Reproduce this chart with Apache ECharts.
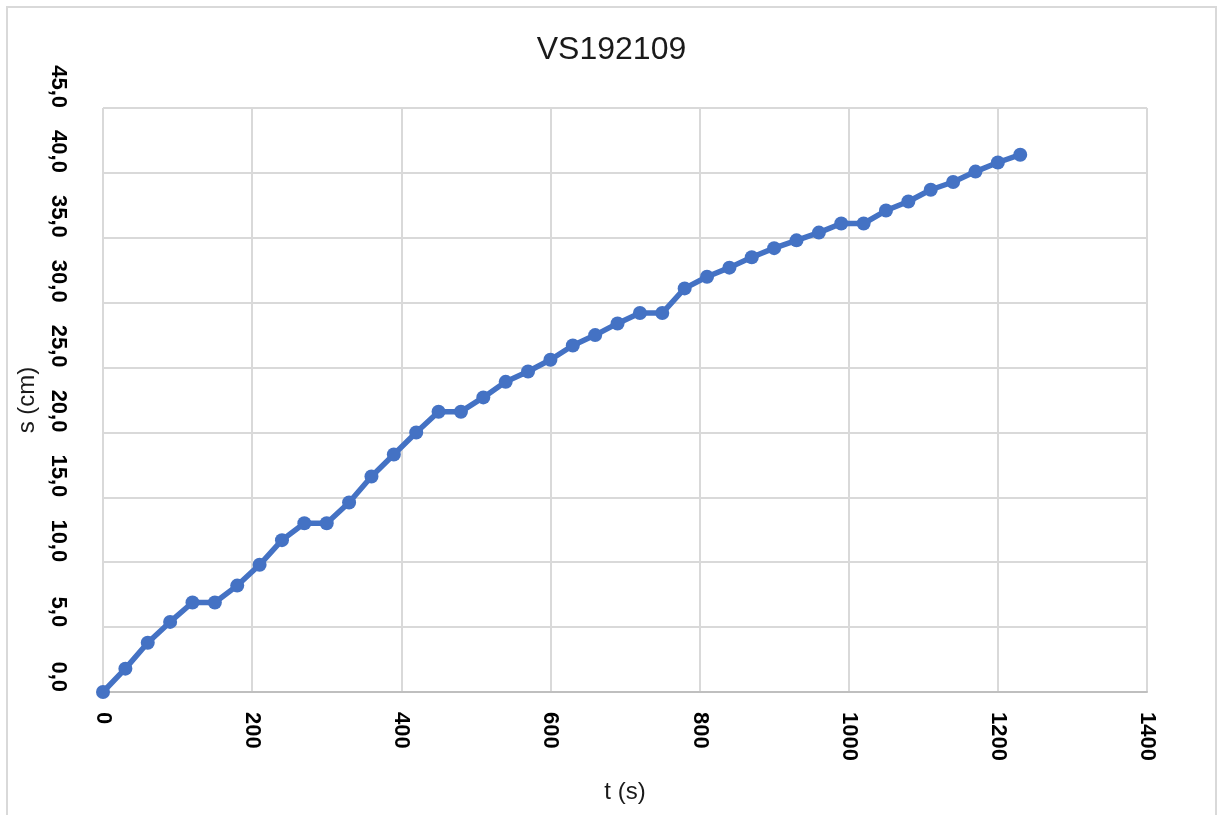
<!DOCTYPE html>
<html>
<head>
<meta charset="utf-8">
<title>VS192109</title>
<script src="https://cdn.jsdelivr.net/npm/echarts@6/dist/echarts.min.js"></script>
<style>
  html, body { margin: 0; padding: 0; background: #fff; }
  #chart { width: 1223px; height: 815px; }
</style>
</head>
<body>
<div id="chart"></div>
<script>
// t (s)
var times = [0, 30, 60, 90, 120, 150, 180, 210, 240, 270, 300, 330, 360, 390,
  420, 450, 480, 510, 540, 570, 600, 630, 660, 690, 720, 750, 780, 810, 840,
  870, 900, 930, 960, 990, 1020, 1050, 1080, 1110, 1140, 1170, 1200, 1230];
// s (cm)
var dist = [0, 1.8, 3.8, 5.4, 6.9, 6.9, 8.2, 9.8, 11.7, 13.0, 13.0, 14.6, 16.6, 18.3,
  20.0, 21.6, 21.6, 22.7, 23.9, 24.7, 25.6, 26.7, 27.5, 28.4, 29.2, 29.2, 31.1, 32.0, 32.7,
  33.5, 34.2, 34.8, 35.4, 36.1, 36.1, 37.1, 37.8, 38.7, 39.3, 40.1, 40.8, 41.4];

var chartTitle = 'VS192109';
var xName = 't (s)';
var yName = 's (cm)';

var font = '"Liberation Sans", Arial, sans-serif';

var points = [];
for (var i = 0; i < times.length; i++) {
  points.push([times[i], dist[i]]);
}

var myChart = echarts.init(document.getElementById('chart'));

myChart.setOption({
  animation: false,
  backgroundColor: '#ffffff',
  textStyle: { fontFamily: font },
  title: {
    text: chartTitle,
    left: 'center',
    top: 29,
    textStyle: {
      fontFamily: font,
      fontSize: 32,
      fontWeight: 'normal',
      color: '#1a1a1a'
    }
  },
  // outer frame of the chart area
  graphic: [
    {
      type: 'rect',
      shape: { x: 7, y: 7, width: 1209, height: 830 },
      style: { fill: 'none', stroke: '#d9d9d9', lineWidth: 2 },
      silent: true
    }
  ],
  grid: {
    left: 103,
    top: 108,
    right: 76,
    bottom: 123
  },
  xAxis: {
    type: 'value',
    min: 0,
    max: 1400,
    interval: 200,
    name: xName,
    nameLocation: 'middle',
    nameGap: 88,
    nameTextStyle: { fontFamily: font, fontSize: 24, color: '#1a1a1a' },
    axisLine: { show: true, lineStyle: { color: '#bfbfbf', width: 2 } },
    axisTick: { show: false },
    axisLabel: {
      rotate: -90,
      margin: 20,
      fontFamily: font,
      fontSize: 22,
      fontWeight: 'bold',
      color: '#000',
      formatter: function (v) {
        return String(v); // no thousands separator
      }
    },
    splitLine: { show: true, lineStyle: { color: '#d9d9d9', width: 2 } }
  },
  yAxis: {
    type: 'value',
    min: 0,
    max: 45,
    interval: 5,
    name: yName,
    nameLocation: 'middle',
    nameRotate: 90,
    nameGap: 60,
    nameTextStyle: { fontFamily: font, fontSize: 24, color: '#1a1a1a' },
    axisLine: { show: false },
    axisTick: { show: false },
    axisLabel: {
      rotate: -90,
      margin: 34,
      align: 'right',
      verticalAlign: 'top',
      fontFamily: font,
      fontSize: 22,
      fontWeight: 'bold',
      color: '#000',
      formatter: function (v) {
        return v.toFixed(1).replace('.', ',');
      }
    },
    splitLine: { show: true, lineStyle: { color: '#d9d9d9', width: 2 } }
  },
  series: [
    {
      type: 'line',
      data: points,
      symbol: 'circle',
      symbolSize: 14,
      lineStyle: { color: '#4472c4', width: 5.5 },
      itemStyle: { color: '#4472c4' }
    }
  ]
});
</script>
</body>
</html>
